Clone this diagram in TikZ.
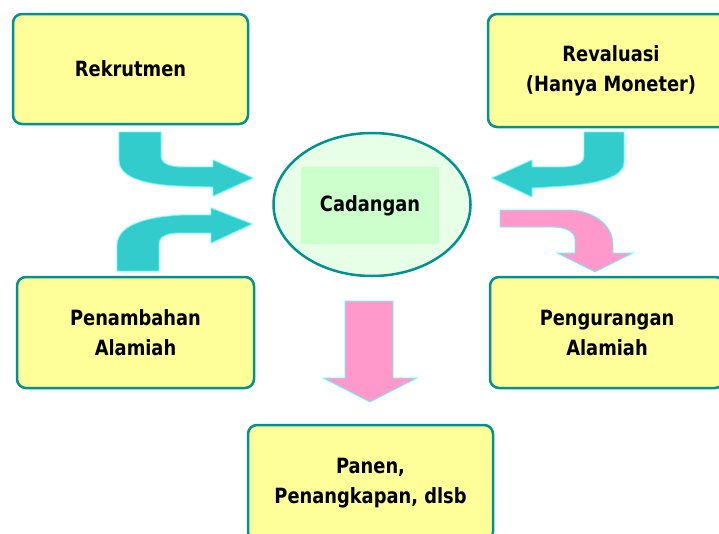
\documentclass[tikz,border=0pt]{standalone}
\usepackage{fontspec}
\setmainfont{DejaVu Sans}[FakeStretch=0.85]
\usetikzlibrary{calc, positioning, shapes.geometric}

\definecolor{boxfill}{HTML}{FFFF99}
\definecolor{boxline}{RGB}{0,145,145}
\definecolor{ovalfill}{HTML}{E6FFE6}
\definecolor{innergreen}{HTML}{CCFFCC}
\definecolor{arrowteal}{HTML}{33CCCC}
\definecolor{arrowpink}{HTML}{FF99CC}
\definecolor{arrowedge}{HTML}{55FFFF}

\tikzset{
    boxnode/.style={draw=boxline, line width=2.5pt, fill=boxfill, rounded corners=9pt,
        align=center, font=\fontsize{21}{30}\selectfont\bfseries},
    tealarrow/.style={fill=arrowteal, draw=arrowedge, line width=0.8pt},
    pinkarrow/.style={fill=arrowpink, draw=arrowedge, line width=0.8pt}
}

\begin{document}
\begin{tikzpicture}[x=1pt,y=-1pt]
\useasboundingbox (0,0) rectangle (719,533);

\node[boxnode, minimum width=235, minimum height=110] (nRekrut) at (130.5,69) {Rekrutmen};
\node[boxnode, minimum width=246, minimum height=113] (nReval) at (611,70.5) {Revaluasi\\(Hanya Moneter)};
\node[boxnode, minimum width=237, minimum height=111] (nTambah) at (135.5,332.5) {Penambahan\\Alamiah};
\node[boxnode, minimum width=234, minimum height=111] (nKurang) at (607,332.5) {Pengurangan\\Alamiah};
\node[boxnode, minimum width=245, minimum height=116] (nPanen) at (370.5,483) {Panen,\\Penangkapan, dlsb};

\node[ellipse, draw=boxline, line width=2.5pt, fill=ovalfill,
    minimum width=197, minimum height=143] (nCadangan) at (372,204.5) {};
\node[fill=innergreen, minimum width=138, minimum height=77,
    font=\fontsize{21}{30}\selectfont\bfseries] (nCadLabel) at (370,205.5) {Cadangan};

% masuk
\draw[tealarrow] (119,132) -- (161,132) -- (161,156)
    .. controls (161,164) and (170,167) .. (183,167) -- (213,167) -- (213,160)
    -- (253,178) -- (213,196) -- (213,187) -- (178,186)
    .. controls (138,184) and (119,175) .. (119,160) -- cycle;
\draw[tealarrow] (117,271) -- (159,271) -- (159,244)
    .. controls (159,236) and (167,233) .. (180,233) -- (211,233) -- (211,243)
    -- (252,224) -- (211,208) -- (211,215) -- (183,215)
    .. controls (143,217) and (117,226) .. (117,246) -- cycle;
\draw[tealarrow] (624,132) -- (584,132) -- (584,156)
    .. controls (584,164) and (575,167) .. (560,167) -- (532,167) -- (532,160)
    -- (492,178) -- (532,197) -- (532,188) -- (565,186)
    .. controls (605,183) and (624,175) .. (624,162) -- cycle;

% keluar
\draw[pinkarrow] (500,210) -- (572,210)
    .. controls (595,212) and (613,225) .. (613,245) -- (613,253) -- (633,253)
    -- (595,272) -- (557,253) -- (575,253) -- (575,240)
    .. controls (575,232) and (566,227) .. (552,227) -- (500,227) -- cycle;
\draw[pinkarrow] (345,301) -- (393,301) -- (393,378) -- (417,378)
    -- (370,402) -- (323,378) -- (345,378) -- cycle;

\end{tikzpicture}
\end{document}
